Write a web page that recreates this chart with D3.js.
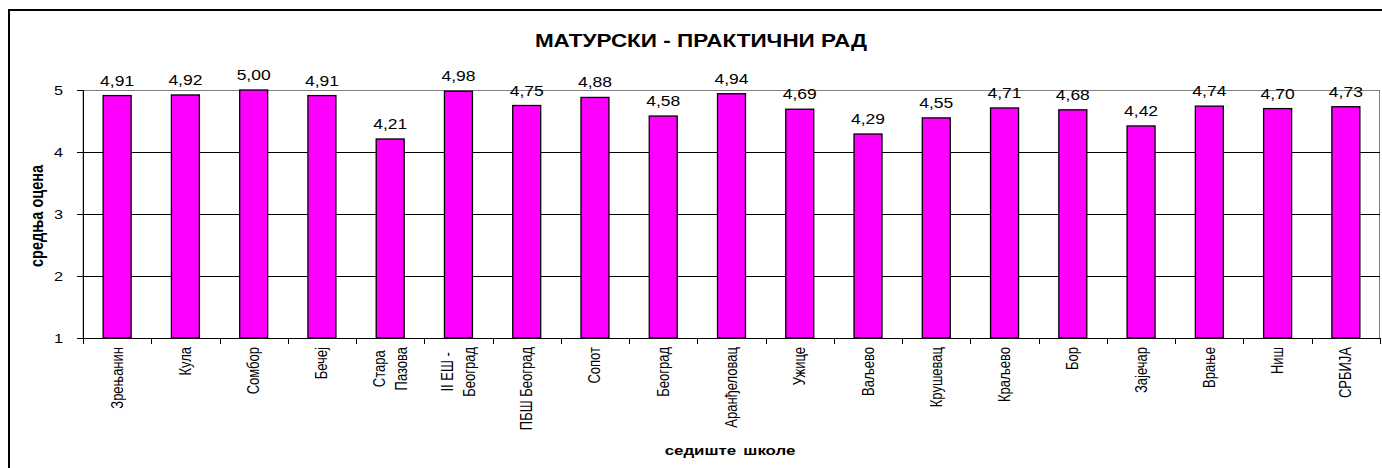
<!DOCTYPE html>
<html>
<head>
<meta charset="utf-8">
<script src="https://cdn.jsdelivr.net/npm/d3@7"></script>
<style>
html,body{margin:0;padding:0;background:#fff;}
svg{display:block;font-family:Arial,"Liberation Sans",sans-serif;}
</style>
</head>
<body>
<svg id="chart" width="1382" height="468"></svg>
<script>
const categories = ["Зрењанин","Кула","Сомбор","Бечеј","Стара\nПазова","II ЕШ -\nБеоград","ПБШ Београд","Сопот","Београд","Аранђеловац","Ужице","Ваљево","Крушевац","Краљево","Бор","Зајечар","Врање","Ниш","СРБИЈА"];
const values = [4.91,4.92,5.00,4.91,4.21,4.98,4.75,4.88,4.58,4.94,4.69,4.29,4.55,4.71,4.68,4.42,4.74,4.70,4.73];
const yTicks = [1,2,3,4,5];
const chartTitle = "МАТУРСКИ - ПРАКТИЧНИ РАД";
const yTitle = "средња оцена";
const xTitle = "седиште школе";

const SX = 1.25; // horizontal stretch of text as seen in the reference
const svg = d3.select("#chart");
const plot = {left:83, right:1380, top:90, bottom:338};

// outer border
svg.append("rect").attr("x",9).attr("y",10).attr("width",1384).attr("height",470)
  .attr("fill","#fff").attr("stroke","#000").attr("stroke-width",2);

const x = d3.scaleBand().domain(d3.range(categories.length)).range([plot.left, plot.right]).padding(0);
const y = d3.scaleLinear().domain([1,5]).range([plot.bottom, plot.top]);
const barW = x.bandwidth()*0.41;

// plot area border (grey)
svg.append("rect").attr("x",plot.left).attr("y",plot.top+0.5).attr("width",plot.right-plot.left-0.5).attr("height",plot.bottom-plot.top)
  .attr("fill","none").attr("stroke","#808080").attr("stroke-width",1);

// gridlines
svg.append("g").selectAll("line").data(yTicks.filter(d=>d>1 && d<5)).join("line")
  .attr("x1",plot.left).attr("x2",plot.right)
  .attr("y1",d=>Math.round(y(d))+0.5).attr("y2",d=>Math.round(y(d))+0.5)
  .attr("stroke","#000").attr("stroke-width",1);

// bars
svg.append("g").selectAll("rect").data(values).join("rect")
  .attr("x",(d,i)=>x(i)+x.bandwidth()/2-barW/2)
  .attr("y",d=>y(d))
  .attr("width",barW)
  .attr("height",d=>y(1)-y(d))
  .attr("fill","#FF00FF").attr("stroke","#000").attr("stroke-width",1.3);

// y axis
const yAxis = svg.append("g").attr("transform",`translate(${plot.left},0)`)
  .call(d3.axisLeft(y).tickValues(yTicks).tickFormat(d3.format("d")).tickSize(6).tickPadding(14));
yAxis.select(".domain").attr("stroke","#000").attr("d",`M0.5,${plot.top}V${plot.bottom}`);
yAxis.selectAll(".tick line").attr("stroke","#000");
yAxis.selectAll(".tick text").each(function(){
  const t = d3.select(this);
  const tx = +t.attr("x");
  t.attr("x",0).attr("font-size",13).attr("fill","#000")
   .attr("font-family","Arial, 'Liberation Sans', sans-serif")
   .attr("transform",`translate(${tx},0) scale(${SX},1)`);
});

// x axis
const xTick = d3.scaleLinear().domain([0,categories.length]).range([plot.left,plot.right]);
const xg = svg.append("g").attr("transform",`translate(0,${plot.bottom})`);
xg.append("line").attr("x1",plot.left).attr("x2",plot.right).attr("y1",0.5).attr("y2",0.5).attr("stroke","#000");
xg.selectAll("line.tk").data(d3.range(categories.length+1)).join("line").attr("class","tk")
  .attr("x1",d=>Math.round(xTick(d))+0.5).attr("x2",d=>Math.round(xTick(d))+0.5)
  .attr("y1",0).attr("y2",6).attr("stroke","#000");

// x tick labels (rotated -90)
categories.forEach((c,i)=>{
  const lines = c.split("\n");
  const cx = x(i)+x.bandwidth()/2;
  const g = svg.append("g");
  const lh = 22;
  const texts = lines.map(ln => g.append("text").text(ln)
      .attr("font-size",13).attr("fill","#000")
      .attr("dominant-baseline","central"));
  const maxW = d3.max(texts, t=>t.node().getComputedTextLength());
  texts.forEach((t,j)=>{
    const lx = cx + (j-(lines.length-1)/2)*lh;
    const ly = plot.bottom + 9 + maxW/2;
    t.attr("text-anchor","middle").attr("transform",`translate(${lx},${ly}) scale(${SX},1) rotate(-90)`);
  });
});

// data labels
svg.append("g").selectAll("text").data(values).join("text")
  .attr("transform",(d,i)=>`translate(${x(i)+x.bandwidth()/2},${y(d)-10}) scale(${SX},1)`)
  .attr("text-anchor","middle").attr("font-size",14).attr("fill","#000")
  .text(d=>d3.format(".2f")(d).replace(".",","));

// title
svg.append("text").attr("transform",`translate(701,46.5) scale(${SX},1)`).attr("text-anchor","middle")
  .attr("font-size",18).attr("font-weight","bold").text(chartTitle);

// y title
svg.append("text").attr("transform",`translate(43,216) scale(${SX},1) rotate(-90)`).attr("text-anchor","middle")
  .attr("font-size",14.5).attr("font-weight","bold").text(yTitle);

// x title
svg.append("text").attr("transform",`translate(730,455) scale(${SX},1)`).attr("text-anchor","middle")
  .attr("font-size",13.5).attr("font-weight","bold").attr("word-spacing",2).text(xTitle);
</script>
</body>
</html>
